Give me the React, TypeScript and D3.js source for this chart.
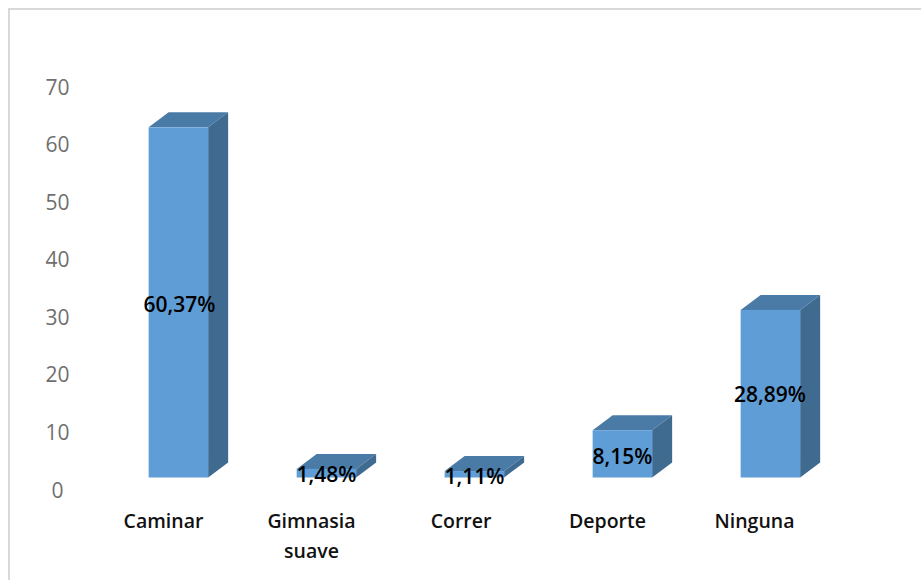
import React from "react";
import * as d3 from "d3";

const categories = ["Caminar", "Gimnasia suave", "Correr", "Deporte", "Ninguna"];
const values = [60.37, 1.48, 1.11, 8.15, 28.89];
const valueLabels = ["60,37%", "1,48%", "1,11%", "8,15%", "28,89%"];
const ticks = [0, 10, 20, 30, 40, 50, 60, 70];

const FONT = "'Open Sans', 'Noto Sans', sans-serif";

export default function App() {
  const x = d3.scaleBand<string>().domain(categories).range([104.4, 844.4]).paddingInner(0.6).paddingOuter(0.3);
  const y = d3.scaleLinear().domain([0, 70]).range([477.5, 71.5]);
  const tickY = d3.scaleLinear().domain([0, 70]).range([490, 87]);
  const w = 59.5, dx = 20, dy = 15;
  return (
    <svg width={921} height={580} style={{ position: "absolute", left: 0, top: 0, background: "#fff" }}>
      <path d="M9 580V9H921" fill="none" stroke="#d9d9d9" strokeWidth={2} />
      {ticks.map((t) => (
        <text key={t} x={57.5} y={tickY(t)} dy="0.36em" textAnchor="middle" fontFamily={FONT} fontSize={21} fill="#6f6f6f">{t}</text>
      ))}
      {categories.map((c, i) => {
        const cx = x(c)! + x.bandwidth() / 2;
        const x0 = cx - w / 2, x1 = cx + w / 2;
        const top = y(values[i]), base = y(0);
        return (
          <g key={c}>
            <path d={`M${x0} ${top}L${x0 + dx} ${top - dy}H${x1 + dx}L${x1} ${top}Z`} fill="#4a7ba7" />
            <path d={`M${x1} ${top}L${x1 + dx} ${top - dy}V${base - dy}L${x1} ${base}Z`} fill="#406b90" />
            <rect x={x0} y={top} width={w} height={base - top} fill="#5f9dd6" />
          </g>
        );
      })}
      {categories.map((c, i) => {
        const cx = x(c)! + x.bandwidth() / 2;
        const labelY = [304, 474.5, 476.5, 456, 394][i];
        return (
          <text key={c} x={cx + [1, 0, 0, 0, -0.5][i]} y={labelY} dy="0.36em" textAnchor="middle" fontFamily={FONT} fontSize={21} fontWeight={600} fill="#000">{valueLabels[i]}</text>
        );
      })}
      {categories.map((c, i) => {
        const lx = [163.5, 311.5, 461, 607.5, 754.5][i];
        const lines = c === "Gimnasia suave" ? ["Gimnasia", "suave"] : [c];
        return lines.map((l, j) => (
          <text key={l} x={lx} y={521 + j * 30} dy="0.36em" textAnchor="middle" fontFamily={FONT} fontSize={19.5} fontWeight={600} fill="#111">{l}</text>
        ));
      })}
    </svg>
  );
}
